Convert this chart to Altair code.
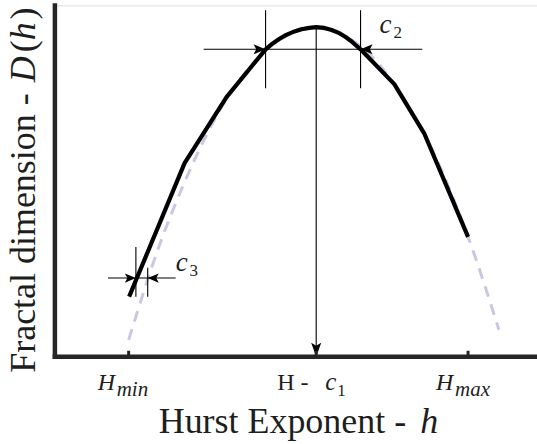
import altair as alt
import pandas as pd

# Measured multifractal spectrum D(h) (solid) and its quadratic fit (dashed)
h_spec = [0.154, 0.269, 0.356, 0.437, 0.451, 0.466, 0.480, 0.497, 0.511, 0.528, 0.542,
          0.559, 0.574, 0.590, 0.603, 0.615, 0.623, 0.634, 0.704, 0.766, 0.857]
d_spec = [0.171, 0.551, 0.739, 0.875, 0.891, 0.905, 0.916, 0.926, 0.932, 0.936, 0.938,
          0.936, 0.930, 0.921, 0.910, 0.898, 0.888, 0.875, 0.776, 0.636, 0.341]

h_fit = [0.153, 0.217, 0.280, 0.342, 0.404, 0.466, 0.540, 0.611, 0.673, 0.735, 0.797, 0.859, 0.921]
d_fit = [0.048, 0.318, 0.531, 0.702, 0.824, 0.902, 0.935, 0.906, 0.831, 0.710, 0.546, 0.334, 0.077]

# x-axis ticks: H_min, H - c1, H_max
tick_h = [0.153, 0.542, 0.857]

# c2: half-width markers near the top of the spectrum
c2_level = 0.875
c2_left, c2_right = 0.437, 0.634
c2_span = [0.3085, 0.762]
c2_vert = [0.764, 0.986]

# c3: offset markers near H_min
c3_level = 0.224
c3_left, c3_right = 0.168, 0.1925
c3_span = [0.110, 0.2505]
c3_left_vert = [0.171, 0.3125]
c3_right_vert = [0.171, 0.253]

peak_h, peak_d = 0.542, 0.938

FONT = "'Liberation Serif', 'Times New Roman', 'DejaVu Serif', serif"
INK = "#1e1e1e"
W, H = 483, 352

XS = alt.Scale(domain=[0, 1], nice=False, zero=False)
YS = alt.Scale(domain=[0, 1], nice=False, zero=False)


def xq(field="x"):
    return alt.X(f"{field}:Q", scale=XS, axis=None)


def yq(field="y"):
    return alt.Y(f"{field}:Q", scale=YS, axis=None)


spec_df = pd.DataFrame({"h": h_spec, "d": d_spec})
fit_df = pd.DataFrame({"h": h_fit, "d": d_fit})

fit = alt.Chart(fit_df).mark_line(
    color="#c8c8e2", strokeWidth=3, strokeDash=[11, 8], interpolate="monotone"
).encode(x=xq("h"), y=yq("d"))

spec = alt.Chart(spec_df).mark_line(
    color="black", strokeWidth=4.2, interpolate="linear", strokeJoin="round"
).encode(x=xq("h"), y=yq("d"))

# thin annotation rules
rules_df = pd.DataFrame({
    "x": [c2_span[0], c2_left, c2_right, peak_h, c3_span[0], c3_left, c3_right],
    "x2": [c2_span[1], c2_left, c2_right, peak_h, c3_span[1], c3_left, c3_right],
    "y": [c2_level, c2_vert[0], c2_vert[0], 0.0, c3_level, c3_left_vert[0], c3_right_vert[0]],
    "y2": [c2_level, c2_vert[1], c2_vert[1], peak_d, c3_level, c3_left_vert[1], c3_right_vert[1]],
})
rules = alt.Chart(rules_df).mark_rule(color="black", strokeWidth=1.1).encode(
    x=xq(), x2="x2:Q", y=yq(), y2="y2:Q"
)

RIGHT = "M0,0 L-1,-0.42 L-0.78,0 L-1,0.42 Z"
LEFT = "M0,0 L1,-0.42 L0.78,0 L1,0.42 Z"
DOWN = "M0,0 L-0.36,-1 L0,-0.78 L0.36,-1 Z"

heads_df = pd.DataFrame({
    "x": [c2_left, c2_right, c3_left, c3_right, peak_h],
    "y": [c2_level, c2_level, c3_level, c3_level, 0.0],
    "shape": [RIGHT, LEFT, RIGHT, LEFT, DOWN],
    "size": [576, 576, 484, 484, 784],
})
heads = alt.Chart(heads_df).mark_point(filled=True, color="black", opacity=1, strokeWidth=0).encode(
    x=xq(), y=yq(),
    shape=alt.Shape("shape:N", scale=None),
    size=alt.Size("size:Q", scale=None),
)

# axis lines and inward ticks
axes_df = pd.DataFrame({"x": [0.0, 0.0], "x2": [1.0, 0.0], "y": [0.0, 0.0], "y2": [0.0, 1.0]})
axes = alt.Chart(axes_df).mark_rule(color="#262626", strokeWidth=4.5, strokeCap="square").encode(
    x=xq(), x2="x2:Q", y=yq(), y2="y2:Q"
)
ticks = alt.Chart(pd.DataFrame({"h": tick_h})).mark_rule(color="#262626", strokeWidth=3).encode(
    x=xq("h"), y=alt.value(H - 6), y2=alt.value(H)
)


def txt(text, x, y, size, italic=False, dx=0, dy=0, angle=None):
    """x/y: a number is a data position, a ('px', v) pair is a pixel position."""
    props = dict(text=text, font=FONT, fontSize=size, color=INK, align="left",
                 baseline="alphabetic", dx=dx, dy=dy)
    if italic:
        props["fontStyle"] = "italic"
    if angle is not None:
        props["angle"] = angle
    row = {}
    enc = {}
    if isinstance(x, tuple):
        enc["x"] = alt.value(x[1])
    else:
        row["x"] = [x]
        enc["x"] = xq()
    if isinstance(y, tuple):
        enc["y"] = alt.value(y[1])
    else:
        row["y"] = [y]
        enc["y"] = yq()
    if not row:
        row = {"_": [0]}
    return alt.Chart(pd.DataFrame(row)).mark_text(**props).encode(**enc)


lab_y = ("px", H + 33)
sub_y = ("px", H + 39)
ttl_y = ("px", H + 76)
ttl_x = ("px", -20)
labels = [
    # H_min
    txt("H", tick_h[0], lab_y, 24, True, dx=-31),
    txt("min", tick_h[0], sub_y, 21, True, dx=-12),
    # H - c1
    txt("H -", tick_h[1], lab_y, 24, False, dx=-39),
    txt("c", tick_h[1], lab_y, 25, True, dx=9),
    txt("1", tick_h[1], sub_y, 17, False, dx=21),
    # H_max
    txt("H", tick_h[2], lab_y, 24, True, dx=-32),
    txt("max", tick_h[2], sub_y, 21, True, dx=-13),
    # c2 and c3 annotations
    txt("c", c2_right, c2_level, 27, True, dx=19, dy=-16),
    txt("2", c2_right, c2_level, 17, False, dx=33, dy=-11),
    txt("c", c3_right, c3_level, 27, True, dx=28, dy=-7),
    txt("3", c3_right, c3_level, 17, False, dx=42, dy=-2),
    # axis titles
    txt("Hurst Exponent -", ("px", 104), ttl_y, 36, False),
    txt("h", ("px", 366), ttl_y, 36, True),
    txt("Fractal dimension -", ttl_x, ("px", 368), 36, False, angle=270),
    txt("D", ttl_x, ("px", 77), 36, True, angle=270),
    txt("(", ttl_x, ("px", 47), 36, False, angle=270),
    txt("h", ttl_x, ("px", 35), 36, True, angle=270),
    txt(")", ttl_x, ("px", 14), 36, False, angle=270),
]

chart = alt.layer(fit, spec, rules, heads, axes, ticks, *labels).properties(
    width=W, height=H,
    padding={"left": 55, "top": 5, "right": 0, "bottom": 87},
    autosize=alt.AutoSizeParams(type="none"),
).configure_view(stroke=None).configure(background="white")

chart.save("out.html", embed_options={"renderer": "svg", "actions": False})
